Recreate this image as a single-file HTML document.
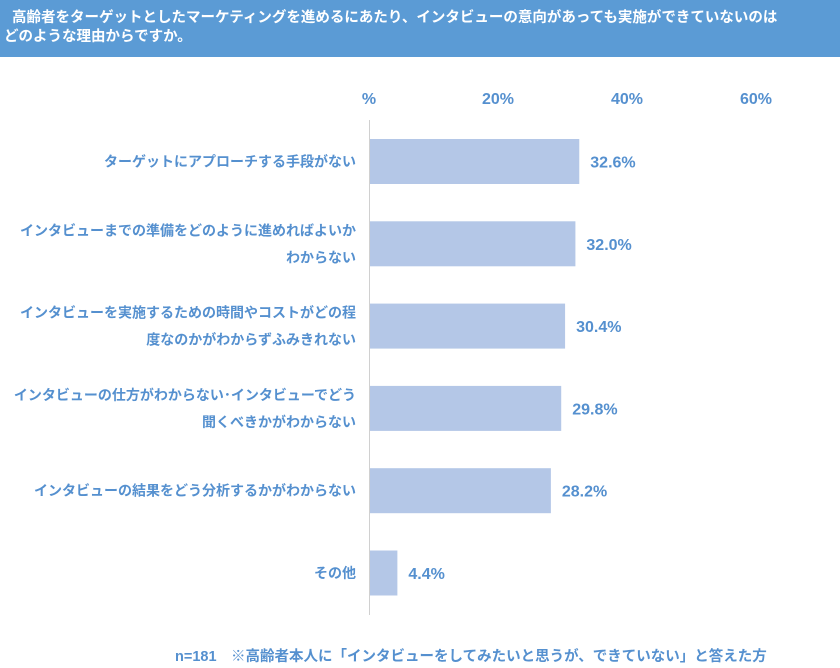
<!DOCTYPE html>
<html><head><meta charset="utf-8"><style>
body{margin:0;width:840px;height:668px;background:#fff;font-family:"Liberation Sans","Noto Sans CJK JP",sans-serif;overflow:hidden;position:relative}
#hdr{position:absolute;left:0;top:0;width:840px;height:57px;background:#5b9bd5;color:#fff;font-weight:bold;font-size:14.5px;line-height:19px;box-sizing:border-box;padding:9px 0 0 4px}
.t{position:absolute;color:#5590cf;font-weight:bold}
</style></head><body>
<div id="hdr">&nbsp;&nbsp;高齢者をターゲットとしたマーケティングを進めるにあたり、インタビューの意向があっても実施ができていないのは<br>どのような理由からですか。</div>
<svg id="c" width="840" height="668" style="position:absolute;left:0;top:0"></svg>
<div class="t" style="left:175px;top:645px;font-size:14.5px">n=181　※高齢者本人に「インタビューをしてみたいと思うが、できていない」と答えた方</div>
<script>
const categories=[["ターゲットにアプローチする手段がない"],["インタビューまでの準備をどのように進めればよいか","わからない"],["インタビューを実施するための時間やコストがどの程","度なのかがわからずふみきれない"],["インタビューの仕方がわからない･インタビューでどう","聞くべきかがわからない"],["インタビューの結果をどう分析するかがわからない"],["その他"]];
const values=[32.6,32.0,30.4,29.8,28.2,4.4];
const ticks=[0,20,40,60];
const tickLabels=["%","20%","40%","60%"];
const NS="http://www.w3.org/2000/svg";
const svg=document.getElementById('c');
const x=v=>369+v*6.45;
const yc=i=>161.5+i*82.3;
function mk(t,a){const e=document.createElementNS(NS,t);for(const k in a)e.setAttribute(k,a[k]);svg.appendChild(e);return e;}
const ax=mk('line',{x1:369.5,x2:369.5,y1:120,y2:615,stroke:'#d0d0d0','stroke-width':1});


ticks.forEach((t,i)=>{const e=mk('text',{x:x(t),y:104,'text-anchor':'middle','font-size':16,'font-weight':'bold',fill:'#5590cf'});e.textContent=tickLabels[i];

});
values.forEach((v,i)=>{
const r=mk('rect',{x:370,y:yc(i)-22.5,width:x(v)-370,height:45,fill:'#b4c7e7'});


const l=mk('text',{x:x(v)+11,y:yc(i)+6,'font-size':16,'font-weight':'bold',fill:'#5590cf'});l.textContent=v.toFixed(1)+'%';


const lines=categories[i];
lines.forEach((s,j)=>{const c=mk('text',{x:356,y:yc(i)+5+(j-(lines.length-1)/2)*27,'text-anchor':'end','font-size':14,'font-weight':'bold',fill:'#5590cf'});c.textContent=s;

});
});
</script>
</body></html>
